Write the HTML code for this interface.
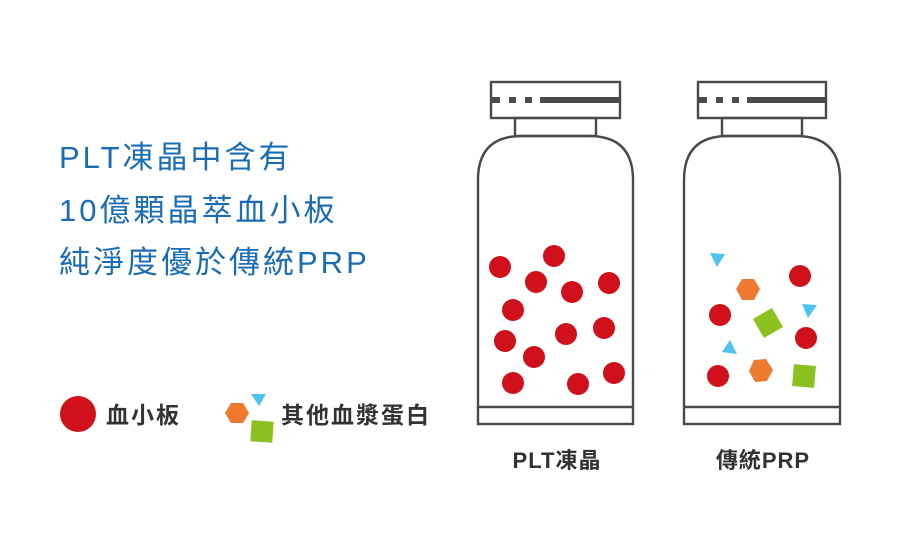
<!DOCTYPE html>
<html><head><meta charset="utf-8"><style>
html,body{margin:0;padding:0;background:#fff;}
svg{display:block}
text{font-family:"Liberation Sans","Noto Sans CJK TC",sans-serif;}
</style></head><body>
<svg width="900" height="550" viewBox="0 0 900 550" xmlns="http://www.w3.org/2000/svg">
<rect width="900" height="550" fill="#fff"/>
<g fill="#1a6db5" font-size="31" letter-spacing="3">
<text x="59" y="168">PLT凍晶中含有</text>
<text x="59" y="221">10億顆晶萃血小板</text>
<text x="59" y="273">純淨度優於傳統PRP</text>
</g>
<circle cx="78" cy="414" r="18" fill="#d0111b"/>
<text x="106" y="423" font-size="23" font-weight="bold" fill="#333" letter-spacing="2">血小板</text>
<polygon points="231,403 243,403 249,413 243,423 231,423 225,413" fill="#ee7a30"/>
<polygon points="251,394 266,394 259,406" fill="#4fc3ef"/>
<rect x="251" y="421" width="22" height="21" fill="#8cc21f" transform="rotate(4 262 431)"/>
<text x="281" y="423" font-size="23" font-weight="bold" fill="#333" letter-spacing="2">其他血漿蛋白</text>

<g fill="none" stroke="#4a4a4a" stroke-width="2.4">
<rect x="491" y="82" width="129" height="36"/>
<rect x="515" y="118" width="81" height="18"/>
<path d="M478,424 V180 Q478,136 522,136 H589 Q633,136 633,180 V424 Z"/>
<line x1="478" y1="407" x2="633" y2="407"/>
<rect x="698" y="82" width="128" height="36"/>
<rect x="722" y="118" width="80" height="18"/>
<path d="M684,424 V180 Q684,136 728,136 H796 Q840,136 840,180 V424 Z"/>
<line x1="684" y1="407" x2="840" y2="407"/>
</g>
<g fill="#4a4a4a">
<rect x="492" y="97" width="8" height="6"/><rect x="509" y="97" width="7" height="6"/><rect x="525" y="97" width="7" height="6"/><rect x="540" y="97" width="80" height="6"/>
<rect x="699" y="97" width="8" height="6"/><rect x="716" y="97" width="7" height="6"/><rect x="732" y="97" width="7" height="6"/><rect x="747" y="97" width="79" height="6"/>
</g>
<g fill="#d0111b">
<circle cx="500" cy="267" r="11"/><circle cx="554" cy="256" r="11"/><circle cx="536" cy="282" r="11"/>
<circle cx="572" cy="292" r="11"/><circle cx="609" cy="283" r="11"/><circle cx="513" cy="310" r="11"/>
<circle cx="505" cy="341" r="11"/><circle cx="566" cy="334" r="11"/><circle cx="604" cy="328" r="11"/>
<circle cx="534" cy="357" r="11"/><circle cx="513" cy="383" r="11"/><circle cx="578" cy="384" r="11"/>
<circle cx="614" cy="373" r="11"/>
<circle cx="800" cy="276" r="11"/><circle cx="720" cy="315" r="11"/><circle cx="806" cy="338" r="11"/><circle cx="718" cy="376" r="11"/>
</g>
<g fill="#4fc3ef">
<polygon points="710,253 725,254 717,267"/>
<polygon points="802,304 817,305 808,318"/>
<polygon points="730,340 737,354 722,352"/>
</g>
<g fill="#ee7a30">
<polygon points="742,279 754,279 760,289 754,300 742,300 736,289"/>
<polygon points="754,360 766,359 773,370 767,381 755,382 749,371"/>
</g>
<g fill="#8cc21f">
<rect x="757" y="312" width="22" height="22" transform="rotate(-30 768 323)"/>
<rect x="793" y="365" width="22" height="22" transform="rotate(5 804 376)"/>
</g>
<g font-size="22" font-weight="bold" fill="#333" text-anchor="middle" letter-spacing="1">
<text x="557" y="468">PLT凍晶</text>
<text x="763" y="468">傳統PRP</text>
</g>
</svg>
</body></html>
